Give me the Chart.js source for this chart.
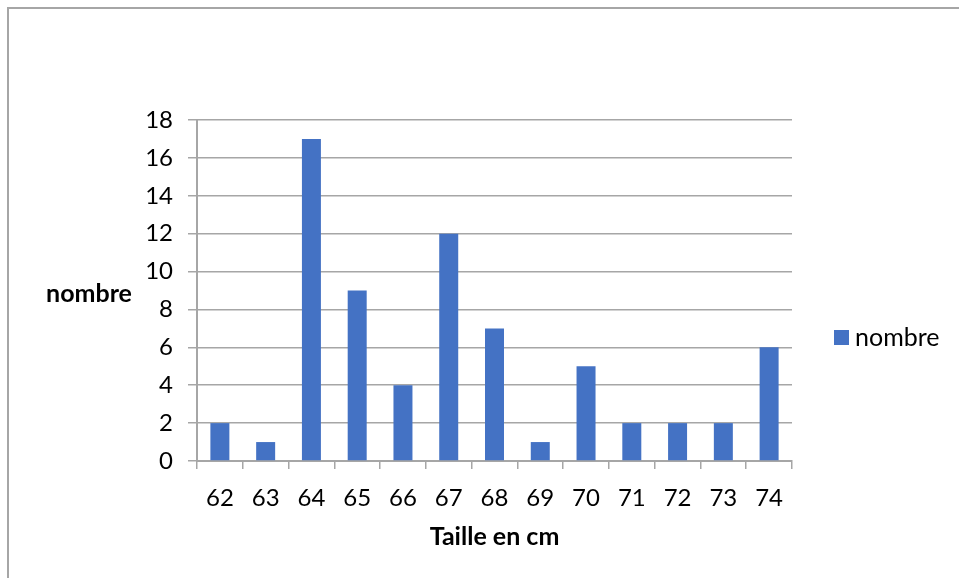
<!DOCTYPE html>
<html>
<head>
<meta charset="utf-8">
<script src="https://cdn.jsdelivr.net/npm/chart.js@4.4.0/dist/chart.umd.min.js"></script>
<style>
  html, body { margin: 0; padding: 0; background: #fff; }
  #wrap { position: relative; width: 959px; height: 578px; }
  #frame { position: absolute; left: 7px; top: 7px; width: 960px; height: 580px;
           border-left: 2px solid #a6a6a6; border-top: 2px solid #a6a6a6; box-sizing: border-box; }
  canvas { position: absolute; left: 0; top: 0; }
</style>
</head>
<body>
<div id="wrap">
  <div id="frame"></div>
  <canvas id="barChart" width="959" height="578"></canvas>
</div>
<script>
const tailles = ['62', '63', '64', '65', '66', '67', '68', '69', '70', '71', '72', '73', '74'];
const nombre = [2, 1, 17, 9, 4, 12, 7, 1, 5, 2, 2, 2, 6];
const serieLabel = 'nombre';
const titreX = 'Taille en cm';
const titreY = 'nombre';

const fontName = 'Lato, "Open Sans", sans-serif';
const barColor = '#4472c4';

// titre Y horizontal + légende à droite, comme dans Excel
const extras = {
  id: 'extras',
  afterDraw(chart) {
    const ctx = chart.ctx;
    ctx.save();
    ctx.fillStyle = '#000';
    ctx.font = 'bold 25px ' + fontName;
    ctx.textAlign = 'center';
    ctx.textBaseline = 'middle';
    ctx.fillText(titreY, 89, 294);

    ctx.fillStyle = barColor;
    ctx.fillRect(834, 330, 15, 15);
    ctx.fillStyle = '#000';
    ctx.font = '25px ' + fontName;
    ctx.textAlign = 'left';
    ctx.fillText(chart.data.datasets[0].label, 855, 338);
    ctx.restore();
  }
};

new Chart(document.getElementById('barChart'), {
  type: 'bar',
  data: {
    labels: tailles,
    datasets: [{
      label: serieLabel,
      data: nombre,
      backgroundColor: barColor,
      borderWidth: 0,
      barPercentage: 0.5,
      categoryPercentage: 0.83,
    }],
  },
  options: {
    responsive: false,
    animation: false,
    layout: { padding: { left: 0, top: 120, right: 167, bottom: 0 } },
    plugins: { legend: { display: false }, tooltip: { enabled: false } },
    scales: {
      x: {
        grid: { drawOnChartArea: false, drawTicks: true, tickLength: 8, color: '#a6a6a6', lineWidth: 1.5, offset: true },
        border: { color: '#a6a6a6', width: 2 },
        ticks: { color: '#000', font: { size: 24, family: fontName }, padding: 15, maxRotation: 0 },
        title: { display: true, text: titreX, color: '#000', font: { size: 25, weight: 'bold', family: fontName }, padding: { top: 0, bottom: 26 } },
        afterFit(scale) { scale.height = 117; },
      },
      y: {
        min: 0,
        max: 18,
        ticks: { stepSize: 2, color: '#000', font: { size: 24, family: fontName }, padding: 15 },
        grid: { color: '#a6a6a6', lineWidth: 1.5, tickLength: 9 },
        border: { color: '#a6a6a6', width: 2 },
        afterFit(scale) { scale.width = 197; },
      },
    },
  },
  plugins: [extras],
});
</script>
</body>
</html>
